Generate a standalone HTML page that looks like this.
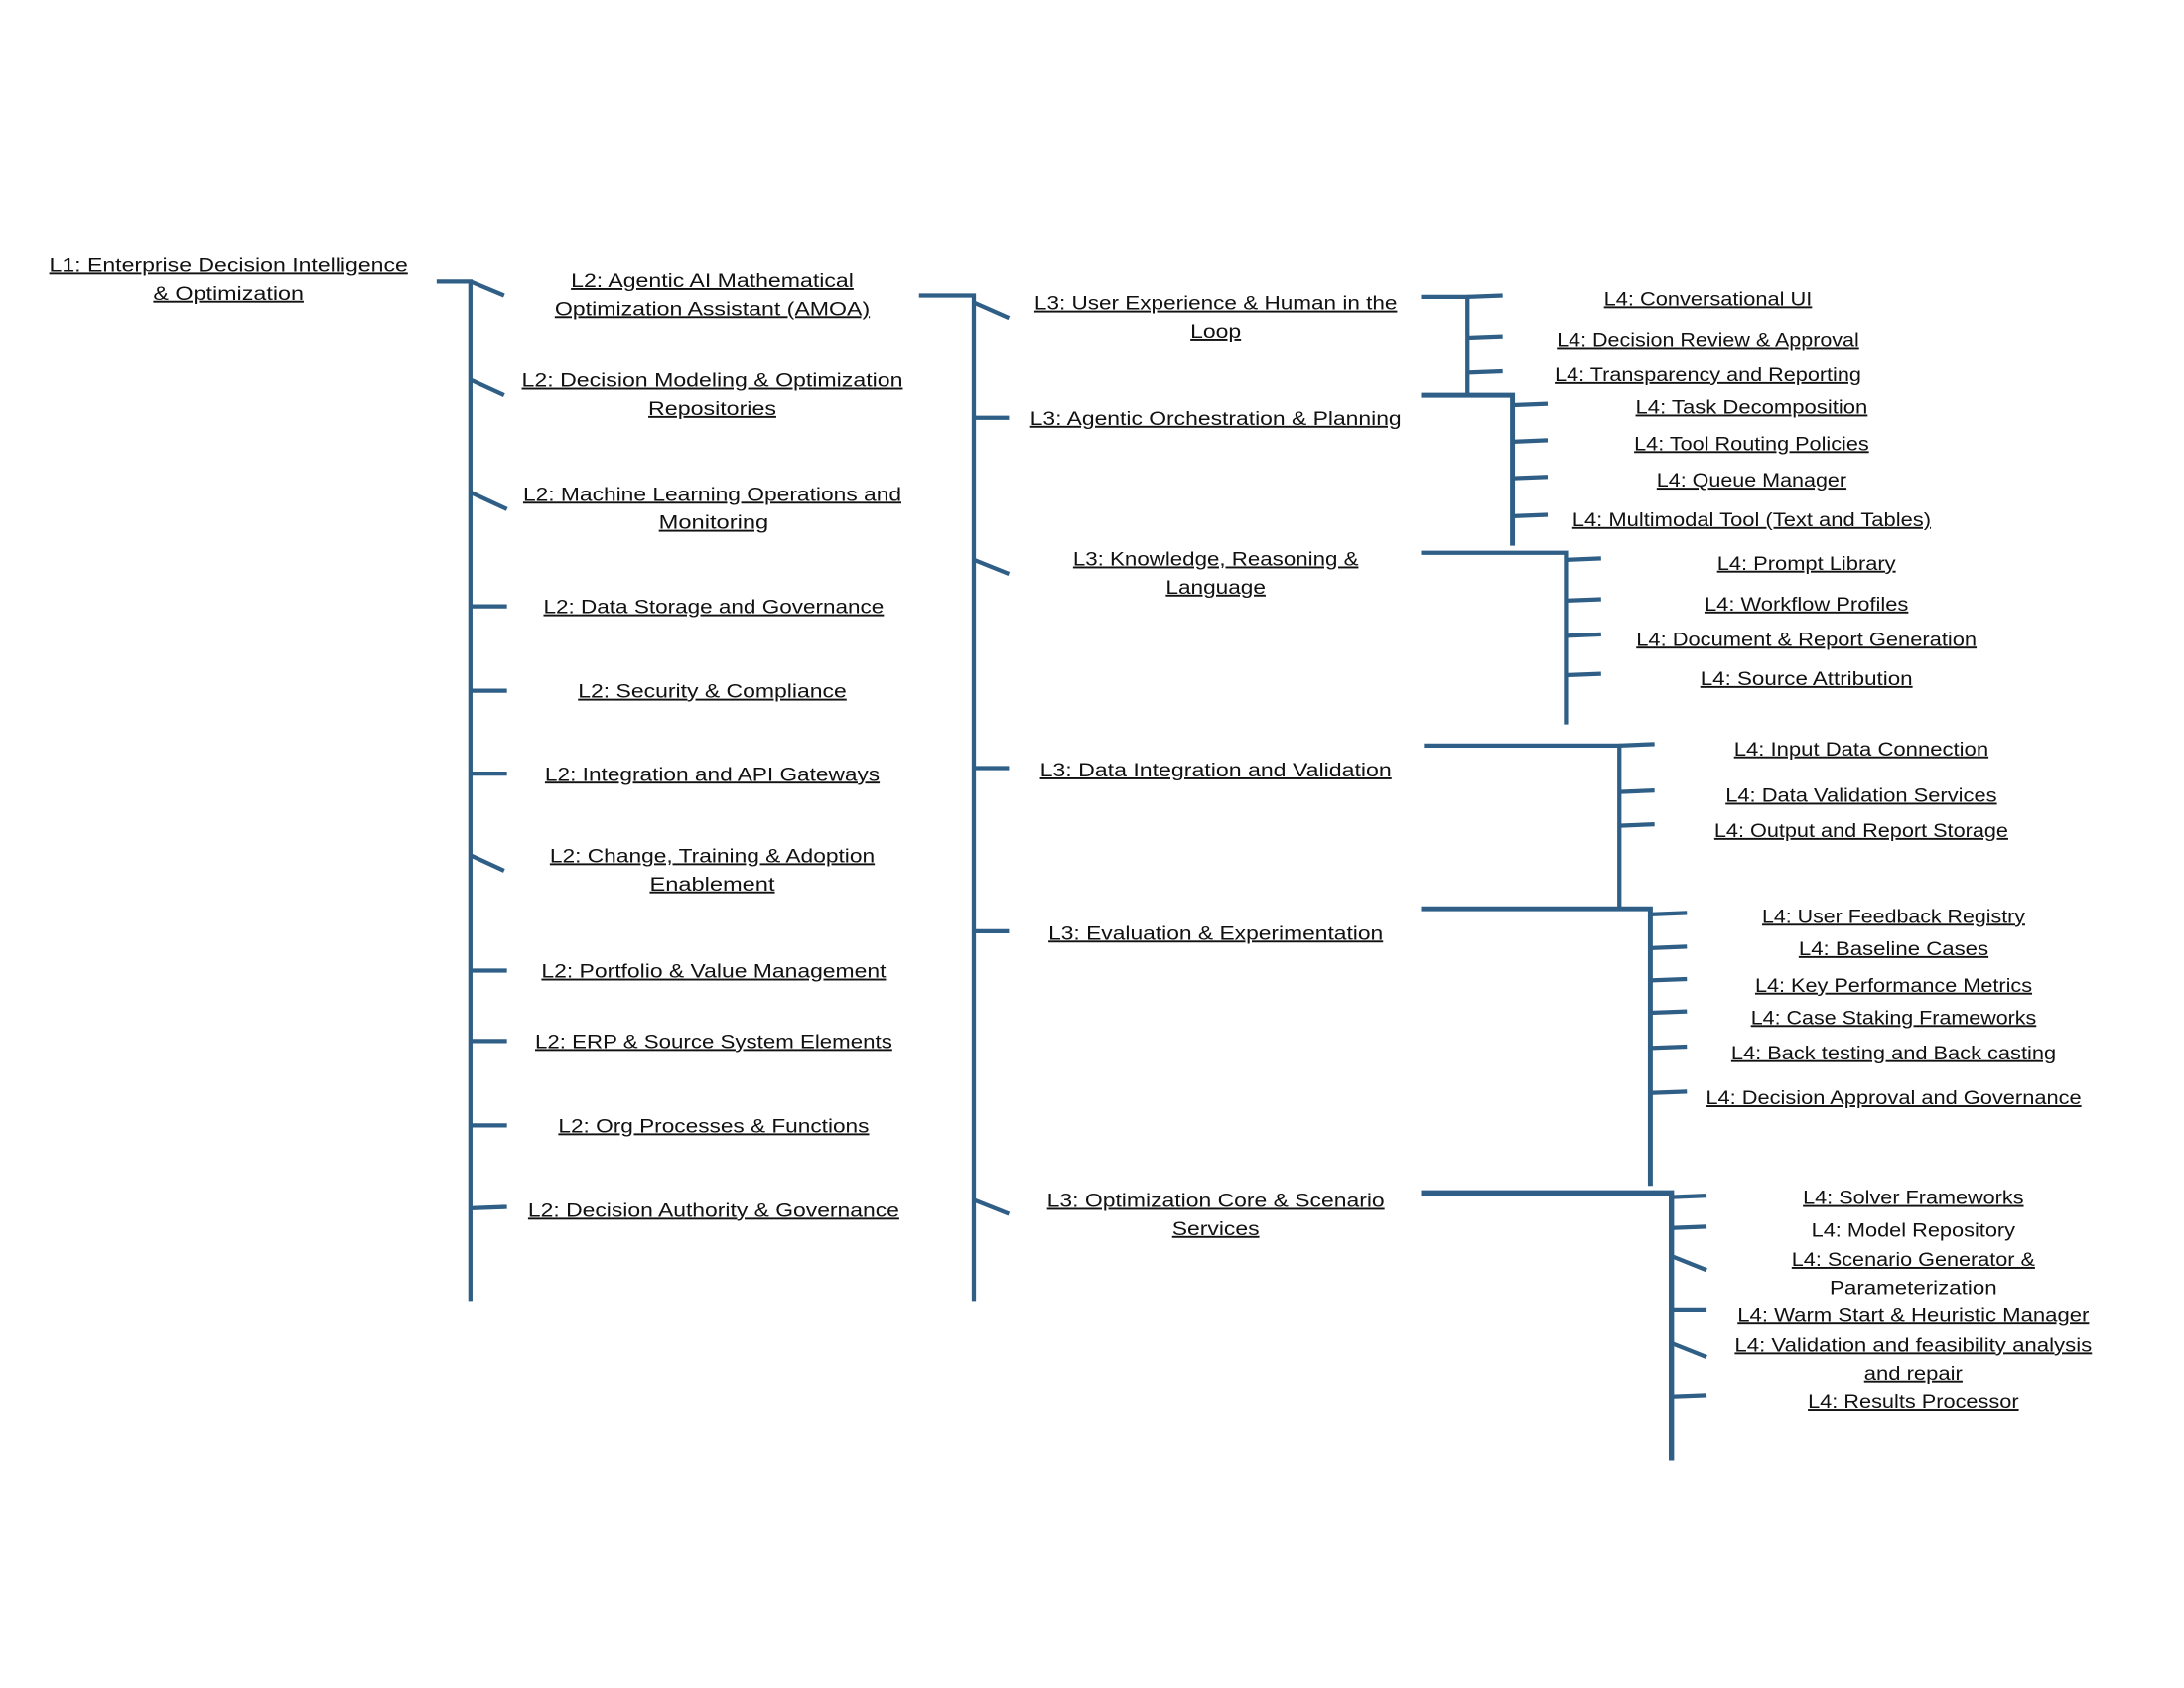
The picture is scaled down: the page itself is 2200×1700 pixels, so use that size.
<!DOCTYPE html>
<html><head><meta charset="utf-8"><style>
html,body{margin:0;padding:0;background:#fff;}
svg{display:block;}
text{font-family:"Liberation Sans",sans-serif;font-size:13.5px;fill:#111;text-anchor:middle;text-decoration:underline;}
text.n{text-decoration:none;}
line,polyline{stroke:#2F5F86;stroke-width:3;fill:none;}
</style></head><body>
<svg width="2200" height="1700" viewBox="0 0 1552 1200" xmlns="http://www.w3.org/2000/svg">
<g lengthAdjust="spacingAndGlyphs">
<!-- L1 -->
<text x="162" y="193" textLength="255" lengthAdjust="spacingAndGlyphs">L1: Enterprise Decision Intelligence</text>
<text x="162" y="213" textLength="107" lengthAdjust="spacingAndGlyphs">&amp; Optimization</text>
<polyline points="310,200 334,200 334,925"/>
<line x1="334" y1="200" x2="358" y2="210"/>
<line x1="334" y1="270" x2="358" y2="281"/>
<line x1="334" y1="350" x2="360" y2="362"/>
<line x1="334" y1="431" x2="360" y2="431"/>
<line x1="334" y1="491" x2="360" y2="491"/>
<line x1="334" y1="550" x2="360" y2="550"/>
<line x1="334" y1="608" x2="358" y2="619"/>
<line x1="334" y1="690" x2="360" y2="690"/>
<line x1="334" y1="740" x2="360" y2="740"/>
<line x1="334" y1="800" x2="360" y2="800"/>
<line x1="334" y1="859" x2="360" y2="858"/>

<!-- L2 texts -->
<text x="506" y="204" textLength="201" lengthAdjust="spacingAndGlyphs">L2: Agentic AI Mathematical</text>
<text x="506" y="224" textLength="224" lengthAdjust="spacingAndGlyphs">Optimization Assistant (AMOA)</text>
<text x="506" y="275" textLength="271" lengthAdjust="spacingAndGlyphs">L2: Decision Modeling &amp; Optimization</text>
<text x="506" y="295" textLength="91" lengthAdjust="spacingAndGlyphs">Repositories</text>
<text x="506" y="356" textLength="269" lengthAdjust="spacingAndGlyphs">L2: Machine Learning Operations and</text>
<text x="507" y="376" textLength="78" lengthAdjust="spacingAndGlyphs">Monitoring</text>
<text x="507" y="436" textLength="242" lengthAdjust="spacingAndGlyphs">L2: Data Storage and Governance</text>
<text x="506" y="496" textLength="191" lengthAdjust="spacingAndGlyphs">L2: Security &amp; Compliance</text>
<text x="506" y="555" textLength="238" lengthAdjust="spacingAndGlyphs">L2: Integration and API Gateways</text>
<text x="506" y="613" textLength="231" lengthAdjust="spacingAndGlyphs">L2: Change, Training &amp; Adoption</text>
<text x="506" y="633" textLength="89" lengthAdjust="spacingAndGlyphs">Enablement</text>
<text x="507" y="695" textLength="245" lengthAdjust="spacingAndGlyphs">L2: Portfolio &amp; Value Management</text>
<text x="507" y="745" textLength="254" lengthAdjust="spacingAndGlyphs">L2: ERP &amp; Source System Elements</text>
<text x="507" y="805" textLength="221" lengthAdjust="spacingAndGlyphs">L2: Org Processes &amp; Functions</text>
<text x="507" y="865" textLength="264" lengthAdjust="spacingAndGlyphs">L2: Decision Authority &amp; Governance</text>

<!-- L2 connector -->
<polyline points="653,210 692,210 692,925"/>
<line x1="692" y1="215" x2="717" y2="226"/>
<line x1="692" y1="297" x2="717" y2="297"/>
<line x1="692" y1="398" x2="717" y2="408"/>
<line x1="692" y1="546" x2="717" y2="546"/>
<line x1="692" y1="662" x2="717" y2="662"/>
<line x1="692" y1="853" x2="717" y2="863"/>

<!-- L3 texts -->
<text x="864" y="220" textLength="258" lengthAdjust="spacingAndGlyphs">L3: User Experience &amp; Human in the</text>
<text x="864" y="240" textLength="36" lengthAdjust="spacingAndGlyphs">Loop</text>
<text x="864" y="302" textLength="264" lengthAdjust="spacingAndGlyphs">L3: Agentic Orchestration &amp; Planning</text>
<text x="864" y="402" textLength="203" lengthAdjust="spacingAndGlyphs">L3: Knowledge, Reasoning &amp;</text>
<text x="864" y="422" textLength="71" lengthAdjust="spacingAndGlyphs">Language</text>
<text x="864" y="552" textLength="250" lengthAdjust="spacingAndGlyphs">L3: Data Integration and Validation</text>
<text x="864" y="668" textLength="238" lengthAdjust="spacingAndGlyphs">L3: Evaluation &amp; Experimentation</text>
<text x="864" y="858" textLength="240" lengthAdjust="spacingAndGlyphs">L3: Optimization Core &amp; Scenario</text>
<text x="864" y="878" textLength="62" lengthAdjust="spacingAndGlyphs">Services</text>

<!-- Group 1 -->
<polyline points="1010,211 1043,211 1043,281"/>
<line x1="1043" y1="211" x2="1068" y2="210"/>
<line x1="1043" y1="240" x2="1068" y2="239"/>
<line x1="1043" y1="265" x2="1068" y2="264"/>
<text x="1214" y="217" textLength="148" lengthAdjust="spacingAndGlyphs">L4: Conversational UI</text>
<text x="1214" y="246" textLength="215" lengthAdjust="spacingAndGlyphs">L4: Decision Review &amp; Approval</text>
<text x="1214" y="271" textLength="218" lengthAdjust="spacingAndGlyphs">L4: Transparency and Reporting</text>

<!-- Group 2 -->
<polyline points="1010,281 1075,281 1075,388" style="stroke-width:3.5"/>
<line x1="1075" y1="288" x2="1100" y2="287"/>
<line x1="1075" y1="314" x2="1100" y2="313"/>
<line x1="1075" y1="340" x2="1100" y2="339"/>
<line x1="1075" y1="367" x2="1100" y2="366"/>
<text x="1245" y="294" textLength="165" lengthAdjust="spacingAndGlyphs">L4: Task Decomposition</text>
<text x="1245" y="320" textLength="167" lengthAdjust="spacingAndGlyphs">L4: Tool Routing Policies</text>
<text x="1245" y="346" textLength="135" lengthAdjust="spacingAndGlyphs">L4: Queue Manager</text>
<text x="1245" y="374" textLength="255" lengthAdjust="spacingAndGlyphs">L4: Multimodal Tool (Text and Tables)</text>

<!-- Group 3 -->
<polyline points="1010,393 1113,393 1113,515"/>
<line x1="1113" y1="398" x2="1138" y2="397"/>
<line x1="1113" y1="427" x2="1138" y2="426"/>
<line x1="1113" y1="452" x2="1138" y2="451"/>
<line x1="1113" y1="480" x2="1138" y2="479"/>
<text x="1284" y="405" textLength="127" lengthAdjust="spacingAndGlyphs">L4: Prompt Library</text>
<text x="1284" y="434" textLength="145" lengthAdjust="spacingAndGlyphs">L4: Workflow Profiles</text>
<text x="1284" y="459" textLength="242" lengthAdjust="spacingAndGlyphs">L4: Document &amp; Report Generation</text>
<text x="1284" y="487" textLength="151" lengthAdjust="spacingAndGlyphs">L4: Source Attribution</text>

<!-- Group 4 -->
<polyline points="1012,530 1151,530 1151,646"/>
<line x1="1151" y1="530" x2="1176" y2="529"/>
<line x1="1151" y1="563" x2="1176" y2="562"/>
<line x1="1151" y1="587" x2="1176" y2="586"/>
<text x="1323" y="537" textLength="181" lengthAdjust="spacingAndGlyphs">L4: Input Data Connection</text>
<text x="1323" y="570" textLength="193" lengthAdjust="spacingAndGlyphs">L4: Data Validation Services</text>
<text x="1323" y="595" textLength="209" lengthAdjust="spacingAndGlyphs">L4: Output and Report Storage</text>

<!-- Group 5 -->
<polyline points="1010,646 1173,646 1173,843" style="stroke-width:3.5"/>
<line x1="1173" y1="650" x2="1199" y2="649"/>
<line x1="1173" y1="674" x2="1199" y2="673"/>
<line x1="1173" y1="697" x2="1199" y2="696"/>
<line x1="1173" y1="720" x2="1199" y2="719"/>
<line x1="1173" y1="745" x2="1199" y2="744"/>
<line x1="1173" y1="777" x2="1199" y2="776"/>
<text x="1346" y="656" textLength="187" lengthAdjust="spacingAndGlyphs">L4: User Feedback Registry</text>
<text x="1346" y="679" textLength="135" lengthAdjust="spacingAndGlyphs">L4:  Baseline Cases</text>
<text x="1346" y="705" textLength="197" lengthAdjust="spacingAndGlyphs">L4: Key Performance Metrics</text>
<text x="1346" y="728" textLength="203" lengthAdjust="spacingAndGlyphs">L4: Case Staking Frameworks</text>
<text x="1346" y="753" textLength="231" lengthAdjust="spacingAndGlyphs">L4: Back testing and Back casting</text>
<text x="1346" y="785" textLength="267" lengthAdjust="spacingAndGlyphs">L4: Decision Approval and Governance</text>

<!-- Group 6 -->
<polyline points="1010,848 1188,848 1188,1038" style="stroke-width:3.8"/>
<line x1="1188" y1="851" x2="1213" y2="850"/>
<line x1="1188" y1="873" x2="1213" y2="872"/>
<line x1="1188" y1="893" x2="1213" y2="903"/>
<line x1="1188" y1="931" x2="1213" y2="931"/>
<line x1="1188" y1="955" x2="1213" y2="965"/>
<line x1="1188" y1="993" x2="1213" y2="992"/>
<text x="1360" y="856" textLength="157" lengthAdjust="spacingAndGlyphs">L4: Solver Frameworks</text>
<text class="n" x="1360" y="879" textLength="145" lengthAdjust="spacingAndGlyphs">L4: Model Repository</text>
<text x="1360" y="900" textLength="173" lengthAdjust="spacingAndGlyphs">L4: Scenario Generator &amp;</text>
<text class="n" x="1360" y="920" textLength="119" lengthAdjust="spacingAndGlyphs">Parameterization</text>
<text x="1360" y="939" textLength="250" lengthAdjust="spacingAndGlyphs">L4:  Warm Start &amp; Heuristic Manager</text>
<text x="1360" y="961" textLength="254" lengthAdjust="spacingAndGlyphs">L4: Validation and feasibility analysis</text>
<text x="1360" y="981" textLength="70" lengthAdjust="spacingAndGlyphs">and repair</text>
<text x="1360" y="1001" textLength="150" lengthAdjust="spacingAndGlyphs">L4: Results Processor</text>
</g>
</svg>
</body></html>
